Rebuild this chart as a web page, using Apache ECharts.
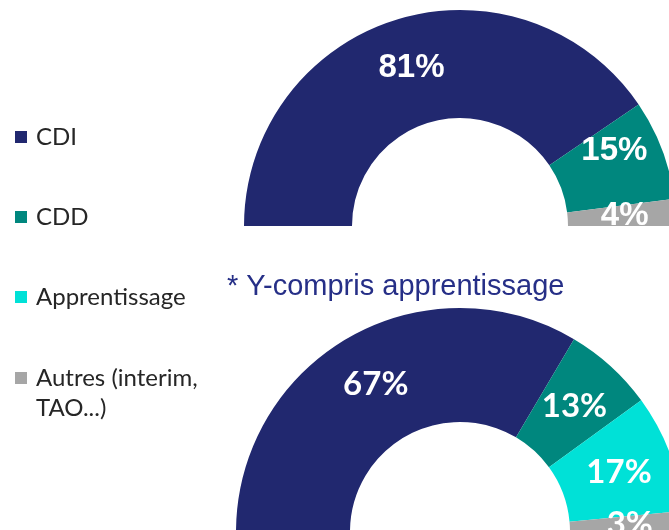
<!DOCTYPE html>
<html>
<head>
<meta charset="utf-8">
<script src="https://cdn.jsdelivr.net/npm/echarts@6/dist/echarts.min.js"></script>
<style>
  html, body { margin: 0; padding: 0; background: #fff; }
  #chart { width: 669px; height: 530px; }
</style>
</head>
<body>
<div id="chart"></div>
<script>
// Categories and values (percent)
const categories = ['CDI', 'CDD', 'Apprentissage', 'Autres (interim, TAO...)'];
const topValues = [81, 15, null, 4];      // no apprentissage in the top chart
const bottomValues = [67, 13, 17, 3];     // y-compris apprentissage
const noteText = '* Y-compris apprentissage';

const palette = ['#21286F', '#00877E', '#00E1D7', '#A6A6A6'];

// Build pie data, skipping empty categories
function buildData(values, labelShift) {
    let out = [];
    values.forEach((v, i) => {
        if (v === null) return;
        let item = { name: categories[i], value: v, itemStyle: { color: palette[i] } };
        // excel nudged some labels, mimic that
        if (labelShift && labelShift[i]) item.label = { offset: labelShift[i] };
        out.push(item);
    });
    return out;
}

let legendText = {
    fontFamily: 'Lato',
    fontSize: 24,
    color: '#262626',
    lineHeight: 30,
    padding: [0, 0, 0, 4]
};

let option = {
    animation: false,
    title: {
        text: noteText,
        left: 227,
        top: 272,
        padding: 0,
        textStyle: {
            fontFamily: 'Liberation Sans, Arial',
            fontSize: 29,
            fontWeight: 'normal',
            color: '#262F87'
        }
    },
    legend: [
        {
            orient: 'vertical',
            left: 15,
            top: 122,
            padding: 0,
            itemWidth: 12,
            itemHeight: 12,
            itemGap: 50,
            icon: 'rect',
            data: categories.slice(0, 3),
            textStyle: legendText
        },
        {
            orient: 'vertical',
            left: 15,
            top: 333,
            padding: 0,
            itemWidth: 12,
            itemHeight: 12,
            icon: 'rect',
            data: categories.slice(3),
            // blank first line so the marker sits on the first text line
            formatter: name => ' \n' + name.replace(', ', ',\n'),
            textStyle: legendText
        }
    ],
    series: [
        {
            type: 'pie',
            center: [460, 226],
            radius: [108, 216],
            startAngle: 180,
            endAngle: 0,
            data: buildData(topValues, { 1: [0, -17] }),
            label: {
                position: 'inside',
                formatter: '{c}%',
                color: '#fff',
                fontFamily: 'Liberation Sans, Arial',
                fontWeight: 'bold',
                fontSize: 33
            },
            labelLine: { show: false },
            emphasis: { disabled: true }
        },
        {
            type: 'pie',
            center: [460, 532],
            radius: [110, 224],
            startAngle: 180,
            endAngle: 0,
            data: buildData(bottomValues),
            label: {
                position: 'inside',
                formatter: '{c}%',
                color: '#fff',
                fontFamily: 'Lato',
                fontWeight: 'bold',
                fontSize: 33
            },
            labelLine: { show: false },
            emphasis: { disabled: true }
        }
    ]
};

let chart = echarts.init(document.getElementById('chart'));
chart.setOption(option);
</script>
</body>
</html>
